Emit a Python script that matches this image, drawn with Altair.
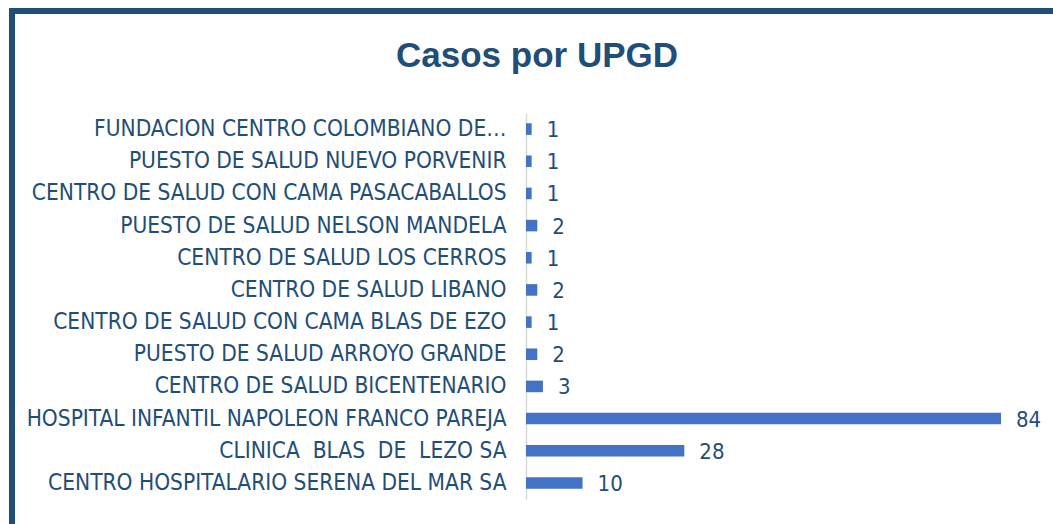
import altair as alt
import pandas as pd

TITLE = "Casos por UPGD"
categories = [
    "FUNDACION CENTRO COLOMBIANO DE\u2026",
    "PUESTO DE SALUD NUEVO PORVENIR",
    "CENTRO DE SALUD CON CAMA PASACABALLOS",
    "PUESTO DE SALUD NELSON MANDELA",
    "CENTRO DE SALUD LOS CERROS",
    "CENTRO DE SALUD LIBANO",
    "CENTRO DE SALUD CON CAMA BLAS DE EZO",
    "PUESTO DE SALUD ARROYO GRANDE",
    "CENTRO DE SALUD BICENTENARIO",
    "HOSPITAL INFANTIL NAPOLEON FRANCO PAREJA",
    "CLINICA \u00a0BLAS \u00a0DE \u00a0LEZO SA",
    "CENTRO HOSPITALARIO SERENA DEL MAR SA",
]
values = [1, 1, 1, 2, 1, 2, 1, 2, 3, 84, 28, 10]

df = pd.DataFrame({"upgd": categories, "casos": values})

NARROW = "DejaVu Sans Condensed"
DARK = "#1F4E79"

y_enc = alt.Y(
    "upgd:N",
    sort=categories,
    scale=alt.Scale(paddingInner=0.64, paddingOuter=0.32),
    axis=alt.Axis(
        title=None,
        ticks=False,
        domainColor="#D9D9D9",
        domainWidth=1.5,
        labelFont=NARROW,
        labelFontSize=22.5,
        labelColor=DARK,
        labelPadding=20,
        labelLimit=700,
    ),
)
x_enc = alt.X("casos:Q", scale=alt.Scale(domain=[0, 84], nice=False, zero=True), axis=None)

base = alt.Chart(df)
bars = base.mark_bar(color="#4472C4").encode(x=x_enc, y=y_enc)
labels = base.mark_text(
    align="left", baseline="middle", dx=15, dy=1, font=NARROW, fontSize=22, color=DARK
).encode(x=x_enc, y=y_enc, text="casos:Q")

title_df = pd.DataFrame({"t": [TITLE]})
title = alt.Chart(title_df).mark_text(
    align="center", baseline="alphabetic", font="Liberation Sans", fontWeight="bold",
    fontSize=35, color=DARK
).encode(x=alt.value(11), y=alt.value(-46), text="t:N")

frame = alt.Chart(title_df).mark_rect(
    fill=None, fillOpacity=0, stroke=DARK, strokeWidth=6
).encode(x=alt.value(-514), x2=alt.value(560), y=alt.value(-102), y2=alt.value(440))

chart = alt.layer(frame, bars, labels, title).properties(
    width=475,
    height=386,
    autosize=alt.AutoSizeParams(type="none"),
    padding={"left": 526, "top": 113, "right": 52, "bottom": 25},
    background="white",
).configure_view(stroke=None)

chart.save("out.html", embed_options={"renderer": "svg", "actions": False})
